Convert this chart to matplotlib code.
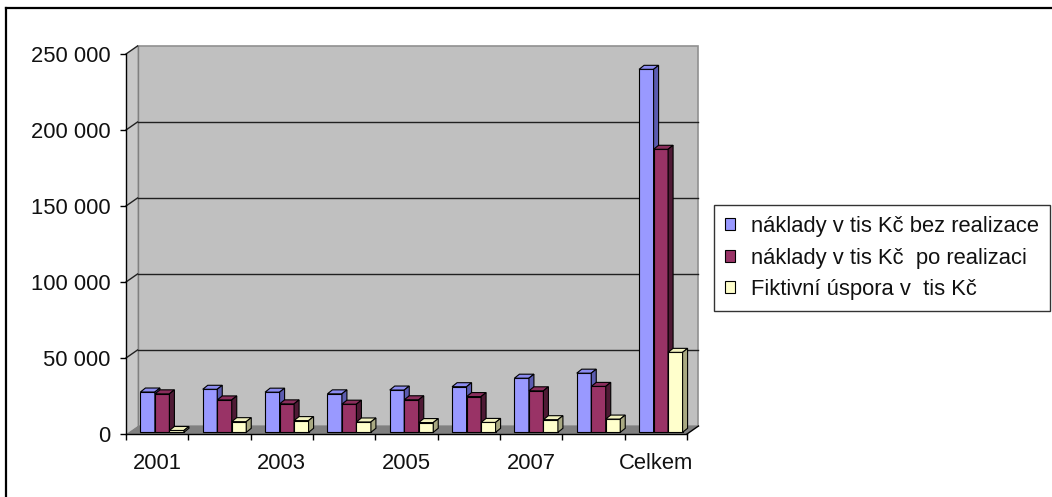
import matplotlib.pyplot as plt
from matplotlib.patches import Polygon, Patch
from matplotlib.lines import Line2D
from matplotlib.ticker import FuncFormatter

plt.rcParams['font.family'] = ['Liberation Sans', 'DejaVu Sans']

# data (tis. Kč)
categories = ['2001', '2002', '2003', '2004', '2005', '2006', '2007', '2008', 'Celkem']
bez_realizace = [26500, 28300, 26400, 25300, 27800, 30000, 35600, 38900, 238800]
po_realizaci = [25300, 21300, 18700, 18500, 21400, 23500, 27300, 30200, 186200]
uspora = [1200, 7000, 7700, 6800, 6400, 6500, 8300, 8700, 52600]
series_names = ['náklady v tis Kč bez realizace',
                'náklady v tis Kč  po realizaci',
                'Fiktivní úspora v  tis Kč']
y_ticks = [0, 50000, 100000, 150000, 200000, 250000]

front_colors = ['#9999FF', '#993366', '#FFFFCC']
top_colors = ['#8C8CF0', '#8A2E5C', '#F2F2BF']
side_colors = ['#5B5BB0', '#4F1A35', '#A9A982']

W, H = 1052, 497
fig = plt.figure(figsize=(W / 100, H / 100), dpi=100)

# plot area in pixels
left_px, right_px, top_px, bottom_px = 126, 687, 54, 434
ax = fig.add_axes([left_px / W, 1 - bottom_px / H,
                   (right_px - left_px) / W, (bottom_px - top_px) / H])
n = len(categories)
ymax = y_ticks[-1]
ax.set_xlim(-0.5, n - 0.5)
ax.set_ylim(0, ymax)
ax.set_facecolor('none')

# pixel -> data conversion
px_x = (right_px - left_px) / n
px_y = (bottom_px - top_px) / ymax

def dx(p):
    return p / px_x

def dy(p):
    return p / px_y

# 3D box: back wall, left wall and floor
wx, wy = dx(11.5), dy(8)
x0, x1 = -0.5, n - 0.5
wall = Polygon([(x0 + wx, wy), (x1 + wx, wy), (x1 + wx, ymax + wy), (x0 + wx, ymax + wy)],
               closed=True, facecolor='#C0C0C0', edgecolor='#909090', lw=1.2,
               clip_on=False, zorder=0)
ax.add_patch(wall)
side = Polygon([(x0, 0), (x0 + wx, wy), (x0 + wx, ymax + wy), (x0, ymax)],
               closed=True, facecolor='#C8C8C8', edgecolor='none',
               clip_on=False, zorder=0)
ax.add_patch(side)
floor = Polygon([(x0, 0), (x1, 0), (x1 + wx, wy), (x0 + wx, wy)],
                closed=True, facecolor='#808080', edgecolor='none',
                clip_on=False, zorder=0.5)
ax.add_patch(floor)
ax.plot([x0 + wx, x0 + wx], [wy, ymax + wy], color='#808080', lw=1,
        clip_on=False, zorder=0.6)
ax.plot([x1, x1 + wx], [0, wy], color='black', lw=1, clip_on=False, zorder=0.6)

# gridlines on the back wall with connectors on the side wall
for t in y_ticks[1:-1]:
    ax.plot([x0 + wx, x1 + wx], [t + wy, t + wy], color='#202020', lw=1,
            clip_on=False, zorder=0.6)
for t in y_ticks[1:]:
    ax.plot([x0, x0 + wx], [t, t + wy], color='#202020', lw=1,
            clip_on=False, zorder=0.6)

# 3D bars
bw = dx(14.5)
sx, sy = dx(5), dy(1.7)
bdx, bdy = dx(5), dy(4)
series = [bez_realizace, po_realizaci, uspora]
z = 2
for i in range(n):
    for j, vals in enumerate(series):
        v = vals[i]
        xl = i - 1.5 * bw + j * bw + sx
        ax.bar(xl, v, width=bw, bottom=sy, align='edge', color=front_colors[j],
               edgecolor='black', lw=0.8, clip_on=False, zorder=z)
        top = Polygon([(xl, sy + v), (xl + bw, sy + v), (xl + bw + bdx, sy + v + bdy),
                       (xl + bdx, sy + v + bdy)], closed=True, facecolor=top_colors[j],
                      edgecolor='black', lw=0.8, clip_on=False, zorder=z)
        rs = Polygon([(xl + bw, sy), (xl + bw + bdx, sy + bdy), (xl + bw + bdx, sy + v + bdy),
                      (xl + bw, sy + v)], closed=True, facecolor=side_colors[j],
                     edgecolor='black', lw=0.8, clip_on=False, zorder=z)
        ax.add_patch(top)
        ax.add_patch(rs)
        z += 0.01

# axes
for s in ['top', 'right']:
    ax.spines[s].set_visible(False)
ax.spines['left'].set_linewidth(1)
ax.spines['bottom'].set_linewidth(1)
ax.spines['left'].set_zorder(5)
ax.spines['bottom'].set_zorder(5)

ax.set_yticks(y_ticks)
ax.yaxis.set_major_formatter(FuncFormatter(lambda v, p: f'{int(v):,}'.replace(',', ' ')))
ax.tick_params(axis='y', direction='out', length=4.3, width=1, pad=7,
               labelsize=15.8, labelcolor='#111111')

ax.set_xticks(range(n))
ax.set_xticklabels([c if i % 2 == 0 else '' for i, c in enumerate(categories)])
ax.set_xticks([k - 0.5 for k in range(n + 1)], minor=True)
ax.tick_params(axis='x', which='major', length=0, pad=14, labelsize=15.8,
               labelcolor='#111111')
ax.tick_params(axis='x', which='minor', direction='out', length=4.3, width=1)

# legend
handles = [Patch(facecolor=c, edgecolor='black', lw=0.8) for c in front_colors]
leg = fig.legend(handles, series_names, loc='upper left',
                 bbox_to_anchor=(714 / W, 1 - 205 / H), bbox_transform=fig.transFigure,
                 fontsize=15.8, frameon=True, fancybox=False, shadow=False,
                 borderaxespad=0, borderpad=0.5, handlelength=0.46, handleheight=0.46,
                 handletextpad=0.72, labelspacing=0.48)
leg.get_frame().set_edgecolor('black')
leg.get_frame().set_linewidth(1)
for t in leg.get_texts():
    t.set_color('#111111')

# chart area border (left and top)
fig.add_artist(Line2D([6 / W, 6 / W], [0, 1 - 8 / H], color='black', lw=1.6))
fig.add_artist(Line2D([6 / W, 1], [1 - 8 / H, 1 - 8 / H], color='black', lw=1.6))

fig.savefig('out.png', dpi=100)
